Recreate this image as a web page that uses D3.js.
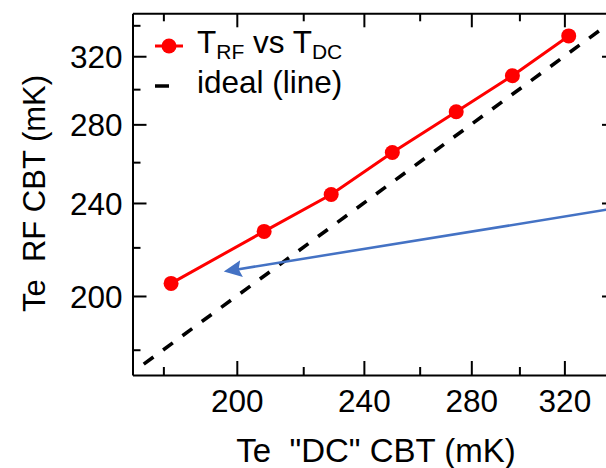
<!DOCTYPE html>
<html>
<head>
<meta charset="utf-8">
<script src="https://cdn.jsdelivr.net/npm/d3@7"></script>
<style>
  body { margin: 0; background: #fff; }
  svg { display: block; font-family: "Liberation Sans", Arial, sans-serif; }
  .axis path, .axis line { stroke: #000; stroke-width: 2; }
  text { white-space: pre; }
</style>
</head>
<body>
<div id="chart"></div>
<script>
// data (mK)
var dcTemps = [182, 208, 229, 250, 274, 297, 322];
var rfTemps = [205, 227, 244, 265, 287, 308, 333];
var idealLine = [175, 350];
var majorTicks = [200, 240, 280, 320];
var minorTicks = [180, 220, 260, 300, 340];
// blue annotation arrow, tail then head, in data units
var arrowX = [345, 196.3];
var arrowY = [237.6, 209.8];

var width = 606, height = 468;
var plotLeft = 132.5, plotRight = 616, plotTop = 13.3, plotBottom = 375;

var svg = d3.select("#chart").append("svg")
    .attr("width", width)
    .attr("height", height);

var x = d3.scaleLog().domain([172.2, 344.6]).range([plotLeft, plotRight]);
var y = d3.scaleLog().domain([171.3, 348.1]).range([plotBottom, plotTop]);

svg.append("clipPath").attr("id", "plotclip")
  .append("rect")
    .attr("x", plotLeft).attr("y", plotTop)
    .attr("width", plotRight - plotLeft).attr("height", plotBottom - plotTop);

// axes: major ticks long, minor short, both pointing inward
function drawAxis(axisFn, scale, transform, labels) {
    var g = svg.append("g").attr("class", "axis").attr("transform", transform);
    g.call(axisFn(scale).tickValues(majorTicks).tickSize(-14).tickSizeOuter(0)
        .tickFormat(labels ? d3.format("d") : ""));
    var m = svg.append("g").attr("class", "axis").attr("transform", transform);
    m.call(axisFn(scale).tickValues(minorTicks).tickSize(-8).tickSizeOuter(0).tickFormat(""));
    m.select(".domain").remove();
    return g;
}

var xb = drawAxis(d3.axisBottom, x, "translate(0," + plotBottom + ")", true);
xb.selectAll("text")
    .attr("y", 37).attr("dy", null)
    .style("font-size", "31.5px").style("fill", "#000");
drawAxis(d3.axisTop, x, "translate(0," + plotTop + ")", false);

var yl = drawAxis(d3.axisLeft, y, "translate(" + plotLeft + ",0)", true);
yl.selectAll("text")
    .attr("x", -10).attr("dy", "0.36em")
    .style("font-size", "31.5px").style("fill", "#000");
drawAxis(d3.axisRight, y, "translate(" + plotRight + ",0)", false);

var plot = svg.append("g").attr("clip-path", "url(#plotclip)");

// ideal y = x
plot.append("line")
    .attr("x1", x(idealLine[0])).attr("y1", y(idealLine[0]))
    .attr("x2", x(idealLine[1])).attr("y2", y(idealLine[1]))
    .attr("stroke", "#000")
    .attr("stroke-width", 3.6)
    .attr("stroke-dasharray", "12,12");

// measured data
var pts = dcTemps.map(function(d, i) { return [d, rfTemps[i]]; });
plot.append("path")
    .datum(pts)
    .attr("fill", "none")
    .attr("stroke", "#ff0000")
    .attr("stroke-width", 3)
    .attr("d", d3.line().x(function(d) { return x(d[0]); }).y(function(d) { return y(d[1]); }));

plot.selectAll(".dot")
    .data(pts).enter()
    .append("circle")
    .attr("class", "dot")
    .attr("cx", function(d) { return x(d[0]); })
    .attr("cy", function(d) { return y(d[1]); })
    .attr("r", 7.5)
    .attr("fill", "#ff0000");

// annotation arrow, head drawn as a triangle at the tip
var ax0 = x(arrowX[0]), ay0 = y(arrowY[0]);
var ax1 = x(arrowX[1]), ay1 = y(arrowY[1]);
var ang = Math.atan2(ay1 - ay0, ax1 - ax0);
var headLen = 18, headHalf = 8.5;
var bx = ax1 - headLen * Math.cos(ang), by = ay1 - headLen * Math.sin(ang);
svg.append("line")
    .attr("x1", ax0).attr("y1", ay0)
    .attr("x2", ax1 - 12 * Math.cos(ang)).attr("y2", ay1 - 12 * Math.sin(ang))
    .attr("stroke", "#4472c4")
    .attr("stroke-width", 2.5);
svg.append("path")
    .attr("d", "M" + ax1 + "," + ay1 +
        "L" + (bx - headHalf * Math.sin(ang)) + "," + (by + headHalf * Math.cos(ang)) +
        "L" + (ax1 - 15 * Math.cos(ang)) + "," + (ay1 - 15 * Math.sin(ang)) +
        "L" + (bx + headHalf * Math.sin(ang)) + "," + (by - headHalf * Math.cos(ang)) + "Z")
    .attr("fill", "#4472c4");

// legend
var leg = svg.append("g").style("font-size", "31.5px").style("fill", "#000");
leg.append("line")
    .attr("x1", 155).attr("x2", 183).attr("y1", 46).attr("y2", 46)
    .attr("stroke", "#ff0000").attr("stroke-width", 3);
leg.append("circle").attr("cx", 169).attr("cy", 46).attr("r", 7.5).attr("fill", "#ff0000");
var t1 = leg.append("text").attr("x", 197).attr("y", 53.3);
t1.append("tspan").text("T");
t1.append("tspan").attr("dy", 6).style("font-size", "21px").text("RF");
t1.append("tspan").attr("dy", -6).text(" vs T");
t1.append("tspan").attr("dy", 6).style("font-size", "21px").text("DC");

leg.append("line")
    .attr("x1", 155).attr("x2", 183).attr("y1", 86).attr("y2", 86)
    .attr("stroke", "#000").attr("stroke-width", 3.5)
    .attr("stroke-dasharray", "14,14");
leg.append("text").attr("x", 197).attr("y", 93.3).text("ideal (line)");

// axis titles
svg.append("text")
    .attr("x", 376).attr("y", 462)
    .attr("text-anchor", "middle")
    .style("font-size", "33px")
    .text("Te  \"DC\" CBT (mK)");

svg.append("text")
    .attr("transform", "translate(45,193.5) rotate(-90)")
    .attr("text-anchor", "middle")
    .style("font-size", "31px")
    .text("Te  RF CBT (mK)");
</script>
</body>
</html>
